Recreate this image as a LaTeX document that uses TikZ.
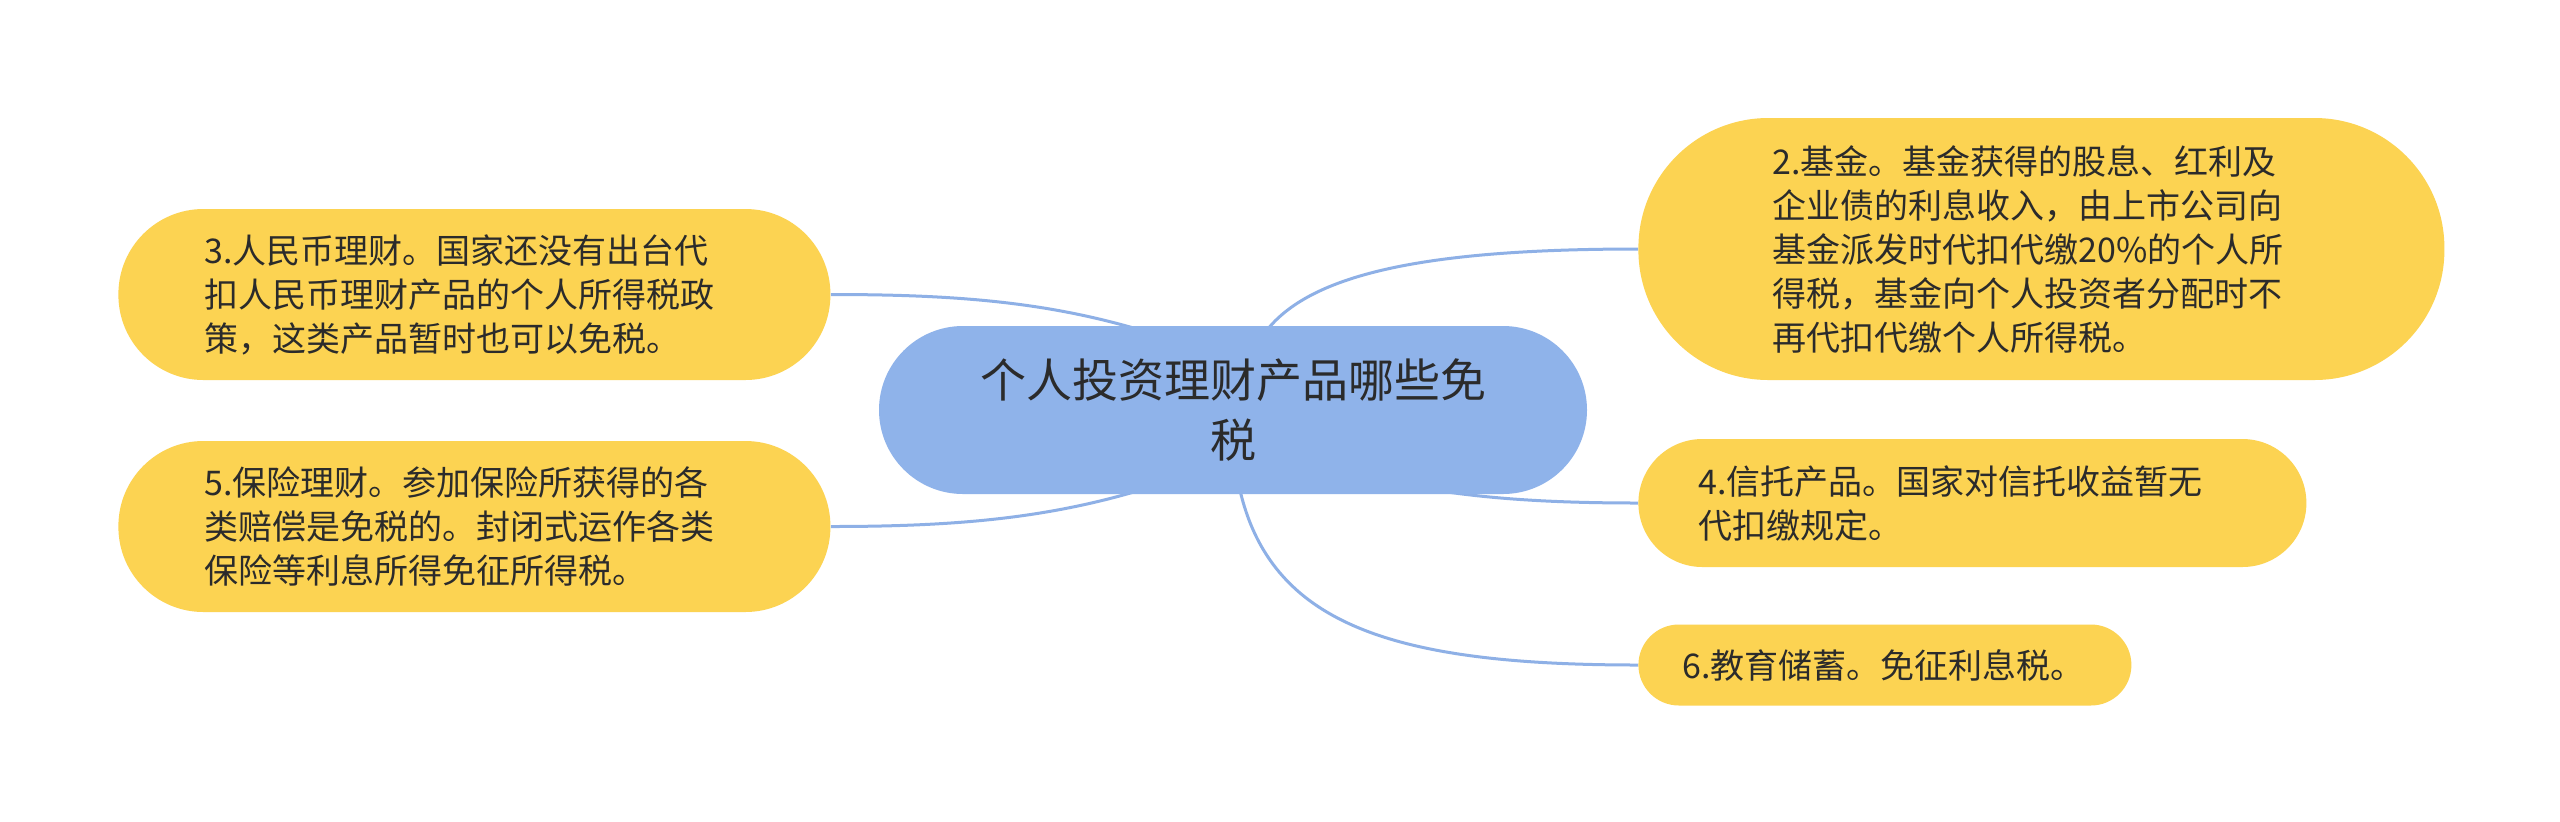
\documentclass[tikz,border=0pt]{standalone}
\usepackage{fontspec}
\setmainfont{Noto Sans CJK SC}
\usetikzlibrary{backgrounds}
\definecolor{leafyellow}{HTML}{FCD352}
\definecolor{rootblue}{HTML}{8FB3EA}
\definecolor{linkblue}{HTML}{8EB0E6}
\definecolor{txt}{HTML}{2B2B2B}
\begin{document}
\begin{tikzpicture}[x=0.5pt,y=-0.5pt,
  leaf/.style={fill=leafyellow, anchor=west, align=left, text=txt, inner ysep=0pt,
    font=\fontsize{17pt}{22pt}\selectfont},
  rootnode/.style={fill=rootblue, align=center, text=txt, inner sep=0pt,
    font=\fontsize{23pt}{30pt}\selectfont, minimum width=354pt, minimum height=84pt,
    rounded corners=42pt},
  link/.style={draw=linkblue, line width=1.5pt}]
\useasboundingbox (0,0) rectangle (2560,821);

\node[rootnode] (root) at (1233,410) {个人投资理财产品哪些免\\税};

\node[leaf, minimum width=403pt, minimum height=131pt, rounded corners=65pt,
  inner xsep=67pt, text width=269pt] (n2) at (1638,249)
  {2.基金。基金获得的股息、红利及\\企业债的利息收入，由上市公司向\\基金派发时代扣代缴20\%的个人所\\得税，基金向个人投资者分配时不\\再代扣代缴个人所得税。};

\node[leaf, minimum width=356pt, minimum height=85.5pt, rounded corners=42.5pt,
  inner xsep=43pt, text width=270pt] (n3) at (118,294.5)
  {3.人民币理财。国家还没有出台代\\扣人民币理财产品的个人所得税政\\策，这类产品暂时也可以免税。};

\node[leaf, minimum width=334pt, minimum height=64pt, rounded corners=32pt,
  inner xsep=30pt, text width=274pt] (n4) at (1638,503)
  {4.信托产品。国家对信托收益暂无\\代扣缴规定。};

\node[leaf, minimum width=356pt, minimum height=85.5pt, rounded corners=42.5pt,
  inner xsep=43pt, text width=270pt] (n5) at (118,526.5)
  {5.保险理财。参加保险所获得的各\\类赔偿是免税的。封闭式运作各类\\保险等利息所得免征所得税。};

\node[leaf, minimum width=246.5pt, minimum height=40.5pt, rounded corners=20.25pt,
  inner xsep=22pt, text width=202.5pt] (n6) at (1638,665)
  {6.教育储蓄。免征利息税。};

\coordinate (e2) at (1260,340);
\coordinate (e3) at (1200,350);
\coordinate (e4) at (1380,480);
\coordinate (e5) at (1200,470);
\coordinate (e6) at (1236,470);

\begin{scope}[on background layer]
  \fill[white] (0,0) rectangle (2560,821);
  \draw[link] (n2.west) .. controls (1420,249) and (1300,275) .. (e2);
  \draw[link] (n3.east) .. controls (980,294.5) and (1080,305) .. (e3);
  \draw[link] (n4.west) .. controls (1520,503) and (1450,495) .. (e4);
  \draw[link] (n5.east) .. controls (980,526.5) and (1080,515) .. (e5);
  \draw[link] (n6.west) .. controls (1380,665) and (1260,620) .. (e6);
\end{scope}
\end{tikzpicture}
\end{document}
